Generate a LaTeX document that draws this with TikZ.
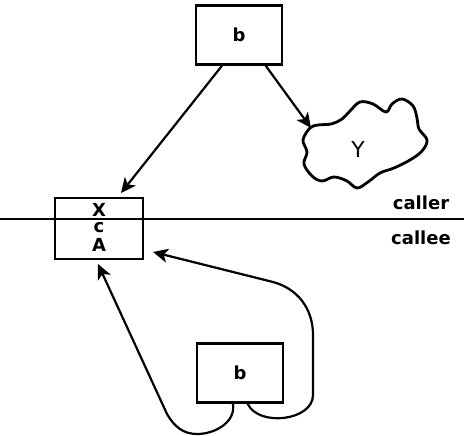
\documentclass[tikz,border=0pt]{standalone}
\usepackage{fontspec}
\setmainfont{DejaVu Sans}
\usetikzlibrary{arrows.meta}
\tikzset{
  box/.style={draw, line width=2.6pt, minimum width=86pt, minimum height=59pt, inner sep=0pt},
  lbl/.style={font=\bfseries\fontsize{18}{19}\selectfont, inner sep=0pt},
  ptr/.style={line width=2.2pt, -{Stealth[length=15pt,width=14pt,inset=4pt]}}
}
\begin{document}
\begin{tikzpicture}[x=1pt, y=-1pt]
			\useasboundingbox (0,0) rectangle (464,436);
			\node [box, lbl] (topb) at (239,35) {b};
			\node [box, lbl] (botb) at (240,373) {b};
			\node [box, minimum width=88pt, minimum height=61pt] (frame) at (99,228.5) {};
			\node [lbl] (x) at (99,210) {X};
			\node [lbl] (c) at (99,228) {c};
			\node [lbl] (a) at (99,245) {A};
			\coordinate (lineL) at (0,219);
			\coordinate (lineR) at (464,219);
			\draw [line width=2.2pt] (lineL) -- (lineR);
			\node [lbl, anchor=base] (caller) at (421,210) {caller};
			\node [lbl, anchor=base] (callee) at (421,244) {callee};
			\draw [line width=2.8pt] plot [smooth cycle, tension=0.6] coordinates {(310,128) (303,140) (307,152) (304,164) (312,176) (322,181) (334,177) (347,181) (357,188) (368,182) (380,173) (394,168) (410,160) (422,151) (427,140) (419,129) (417,118) (413,106) (402,99) (392,104) (386,112) (373,104) (360,102) (350,111) (342,119) (331,124) (318,125)};
			\node [inner sep=0pt, font=\fontsize{22}{24}\selectfont] (y) at (358,149) {Y};
			\coordinate (cloudL) at (311,128);
			\coordinate (frameT) at (121,193);
			\coordinate (frameB) at (98,264);
			\coordinate (frameR) at (153,252);
			\draw [ptr] (topb.241) -- (frameT);
			\draw [ptr] (topb.311) -- (cloudL);
			\draw [ptr] (botb.-103) to [out=-80,in=0] (197,434) to [out=180,in=-60] (167,414) -- (frameB);
			\draw [ptr] (botb.-76) to [out=-65,in=-90] (313,395) -- (313,335) to [out=90,in=-15] (273,282) -- (frameR);
		\end{tikzpicture}
\end{document}
